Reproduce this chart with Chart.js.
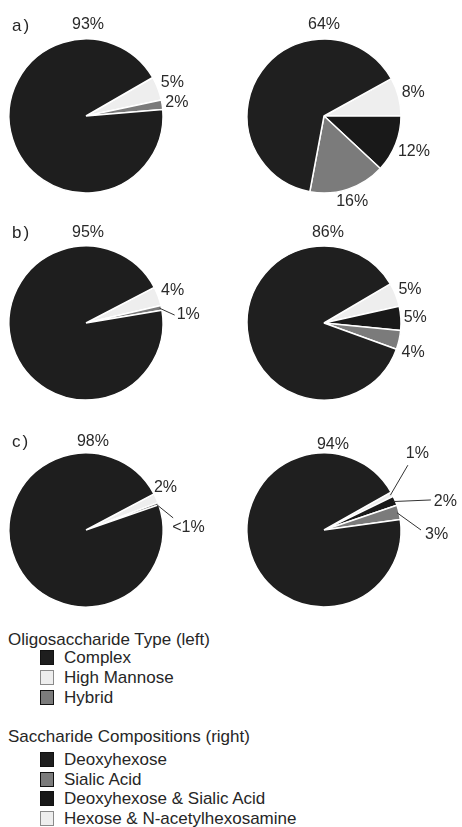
<!DOCTYPE html>
<html>
<head>
<meta charset="utf-8">
<script src="https://cdn.jsdelivr.net/npm/chart.js@4/dist/chart.umd.min.js"></script>
<style>
  html, body { margin: 0; padding: 0; background: #fff; }
  body { width: 462px; height: 827px; position: relative; overflow: hidden;
         font-family: "Liberation Sans", Arial, sans-serif; color: #262626; }
  canvas.pie { position: absolute; }
  .tag { position: absolute; font-size: 17px; line-height: 20px; height: 20px; letter-spacing: 2px; }
  .row { position: absolute; left: 8px; font-size: 17px; line-height: 20px; height: 20px; white-space: nowrap; }
  .row.item { padding-left: 56px; }
  .sw { position: absolute; left: 32px; top: 2px; width: 12px; height: 13px; border: 1px solid #444; }
</style>
</head>
<body>
<script>
// ---- data ----
const panelTags = ['a)', 'b)', 'c)'];

// left pies: oligosaccharide type (clockwise slice order)
const typeCategories = ['High Mannose', 'Hybrid', 'Complex'];
const typeA = [5, 2, 93];
const typeB = [4, 1, 95];
const typeC = [2, 0.5, 98];   // 0.5 is shown as "<1%"

// right pies: saccharide compositions (clockwise slice order)
const compCategories = ['Hexose & N-acetylhexosamine', 'Deoxyhexose & Sialic Acid', 'Sialic Acid', 'Deoxyhexose'];
const compA = [8, 12, 16, 64];
const compB = [5, 5, 4, 86];
const compC = [1, 2, 3, 94];

// legend text
const typeTitle = 'Oligosaccharide Type (left)';
const typeLegend = ['Complex', 'High Mannose', 'Hybrid'];
const compTitle = 'Saccharide Compositions (right)';
const compLegend = ['Deoxyhexose', 'Sialic Acid', 'Deoxyhexose & Sialic Acid', 'Hexose & N-acetylhexosamine'];

// ---- styles ----
const FILL = {
  'Complex': '#1e1e1e',
  'High Mannose': '#eeeeee',
  'Hybrid': '#7b7b7b',
  'Deoxyhexose': '#1f1f1f',
  'Sialic Acid': '#7b7b7b',
  'Deoxyhexose & Sialic Acid': '#191919',
  'Hexose & N-acetylhexosamine': '#eeeeee'
};
const SWATCH_EDGE = {
  'High Mannose': '#8a8a8a',
  'Hexose & N-acetylhexosamine': '#8a8a8a'
};
const FONT = '"Liberation Sans", Arial, sans-serif';

// percentage labels drawn around each pie
const sliceLabels = {
  id: 'sliceLabels',
  afterDatasetsDraw(chart, args, opts) {
    const ctx = chart.ctx;
    const meta = chart.getDatasetMeta(0);
    const vals = chart.data.datasets[0].data;
    const spots = opts.spots || [];
    const rad = d => d * Math.PI / 180;
    ctx.save();
    ctx.font = '16px ' + FONT;
    ctx.fillStyle = '#2a2a2a';
    ctx.strokeStyle = '#333';
    ctx.lineWidth = 1;
    meta.data.forEach((arc, i) => {
      const p = arc.getProps(['x', 'y', 'startAngle', 'endAngle', 'outerRadius'], true);
      const spot = spots[i] || {};
      const text = vals[i] < 1 ? '<1%' : vals[i] + '%';
      const w = ctx.measureText(text).width;
      const h = 12;
      const midA = (p.startAngle + p.endAngle) / 2;
      if (spot.lead) {
        const sx = p.x + (p.outerRadius - 2) * Math.cos(midA);
        const sy = p.y + (p.outerRadius - 2) * Math.sin(midA);
        const ea = rad(spot.lead[0]);
        const ex = p.x + spot.lead[1] * Math.cos(ea);
        const ey = p.y + spot.lead[1] * Math.sin(ea);
        ctx.beginPath();
        ctx.moveTo(sx, sy);
        ctx.lineTo(ex, ey);
        ctx.stroke();
        ctx.textAlign = 'left';
        ctx.textBaseline = 'middle';
        ctx.fillText(text, ex + spot.text[0], ey + spot.text[1]);
      } else {
        const a = spot.deg !== undefined ? rad(spot.deg) : midA;
        const d = spot.dist !== undefined ? spot.dist
          : p.outerRadius + 2.5 + Math.abs(Math.cos(a)) * w / 2 + Math.abs(Math.sin(a)) * h / 2;
        ctx.textAlign = 'center';
        ctx.textBaseline = 'middle';
        ctx.fillText(text, p.x + d * Math.cos(a), p.y + d * Math.sin(a));
      }
    });
    ctx.restore();
  }
};

// ---- layout ----
const PANEL_W = 231, PANEL_H = 207, RADIUS = 77;
const pies = [
  { cats: typeCategories, vals: typeA, col: 0, row: 0, rotation: 60,
    spots: [{}, {}, { deg: -88.7, dist: 91 }] },
  { cats: compCategories, vals: compA, col: 1, row: 0, rotation: 61,
    spots: [{}, {}, {}, { deg: -90, dist: 91 }] },
  { cats: typeCategories, vals: typeB, col: 0, row: 1, rotation: 62.4,
    spots: [{}, { lead: [-5.1, 89], text: [2, 0] }, { deg: -88.7, dist: 90 }] },
  { cats: compCategories, vals: compB, col: 1, row: 1, rotation: 59.5,
    spots: [{}, {}, { deg: 18.6, dist: 94 }, { deg: -87.5, dist: 90 }] },
  { cats: typeCategories, vals: typeC, col: 0, row: 2, rotation: 62,
    spots: [{ deg: -28, dist: 90 }, { lead: [-7.9, 88], text: [-1, 10] }, { deg: -85.5, dist: 88.3 }] },
  { cats: compCategories, vals: compC, col: 1, row: 2, rotation: 60.5,
    spots: [{ lead: [-37.7, 106], text: [-2, -12] }, { lead: [-15.7, 111], text: [3, 2] },
            { lead: [0, 97], text: [4, 5] }, { deg: -84, dist: 85.5 }] }
];

pies.forEach(p => {
  const cv = document.createElement('canvas');
  cv.className = 'pie';
  cv.width = PANEL_W;
  cv.height = PANEL_H;
  cv.style.left = (p.col * PANEL_W) + 'px';
  cv.style.top = (p.row * PANEL_H) + 'px';
  document.body.appendChild(cv);
  new Chart(cv, {
    type: 'pie',
    data: {
      labels: p.cats,
      datasets: [{
        data: p.vals,
        backgroundColor: p.cats.map(c => FILL[c]),
        borderColor: '#ffffff',
        borderWidth: 1.5
      }]
    },
    options: {
      responsive: false,
      animation: false,
      events: [],
      rotation: p.rotation,
      radius: RADIUS,
      layout: { padding: { left: 0, right: p.col === 0 ? 59 : 45, top: 25, bottom: 0 } },
      plugins: {
        legend: { display: false },
        tooltip: { enabled: false },
        sliceLabels: { spots: p.spots }
      }
    },
    plugins: [sliceLabels]
  });
});

// panel tags
const tagPos = [[12, 16], [12, 223], [12, 432]];
panelTags.forEach((t, i) => {
  const d = document.createElement('div');
  d.className = 'tag';
  d.textContent = t;
  d.style.left = tagPos[i][0] + 'px';
  d.style.top = tagPos[i][1] + 'px';
  document.body.appendChild(d);
});

// legend blocks
function legendBlock(title, names, titleY, firstY, step) {
  const t = document.createElement('div');
  t.className = 'row';
  t.textContent = title;
  t.style.top = (titleY - 10) + 'px';
  document.body.appendChild(t);
  names.forEach((n, i) => {
    const r = document.createElement('div');
    r.className = 'row item';
    r.style.top = (firstY + i * step - 10) + 'px';
    const sw = document.createElement('span');
    sw.className = 'sw';
    sw.style.background = FILL[n];
    sw.style.borderColor = SWATCH_EDGE[n] || '#111';
    r.appendChild(sw);
    r.appendChild(document.createTextNode(n));
    document.body.appendChild(r);
  });
}
legendBlock(typeTitle, typeLegend, 640, 658, 20);
legendBlock(compTitle, compLegend, 737, 760, 19.7);
</script>
</body>
</html>
